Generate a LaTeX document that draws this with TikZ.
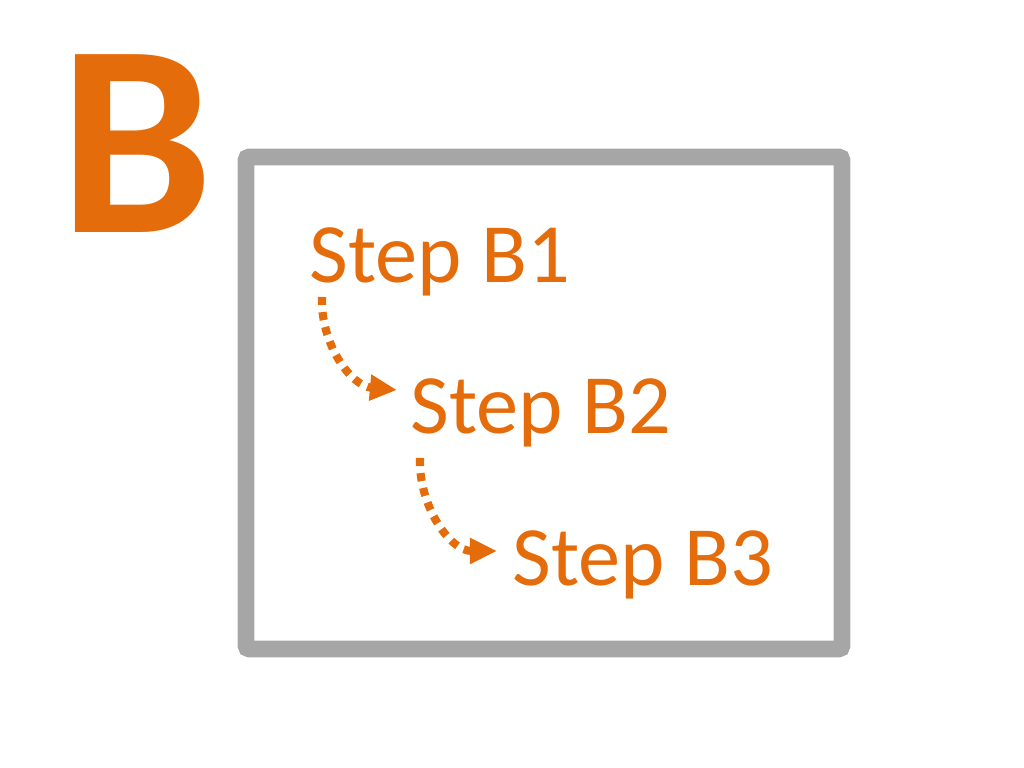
\documentclass[tikz,border=0pt]{standalone}
\usepackage{fontspec}
\setmainfont{Carlito}
\definecolor{stepOrange}{HTML}{E46C0A}
\definecolor{boxGray}{HTML}{A6A6A6}
\usetikzlibrary{calc,arrows.meta}
\begin{document}
\begin{tikzpicture}[x=0.01cm,y=-0.01cm,
    steptext/.style={anchor=base west,inner sep=0pt,text=stepOrange,
      font=\fontsize{24}{29}\selectfont},
    flow/.style={stepOrange,line width=2.3pt,dash pattern=on 2.3pt off 2pt,
      -{Triangle[length=7.7pt,width=7pt]}}]
        \useasboundingbox (0,0) rectangle (1024,768);

        % Panel letter
        \node[anchor=base west,inner sep=0pt,text=stepOrange,
          font=\fontsize{78}{90}\selectfont\bfseries] (panel) at (59,233) {B};

        % Frame
        \draw[boxGray,line width=4.8pt,rounded corners=1pt] (246,157) rectangle (842,649);

        % Steps
        \node[steptext] (b1) at (309,283) {Step B1};
        \node[steptext] (b2) at (410,434) {Step B2};
        \node[steptext] (b3) at (512,586) {Step B3};

        % Flow
        \draw[flow] ($(b1.base west)+(13,14)$) to[out=-92,in=175] ($(b2.base west)+(-13,-44)$);
        \draw[flow] ($(b2.base west)+(10,24)$) to[out=-92,in=180] ($(b3.base west)+(-15,-35)$);
      \end{tikzpicture}
\end{document}
